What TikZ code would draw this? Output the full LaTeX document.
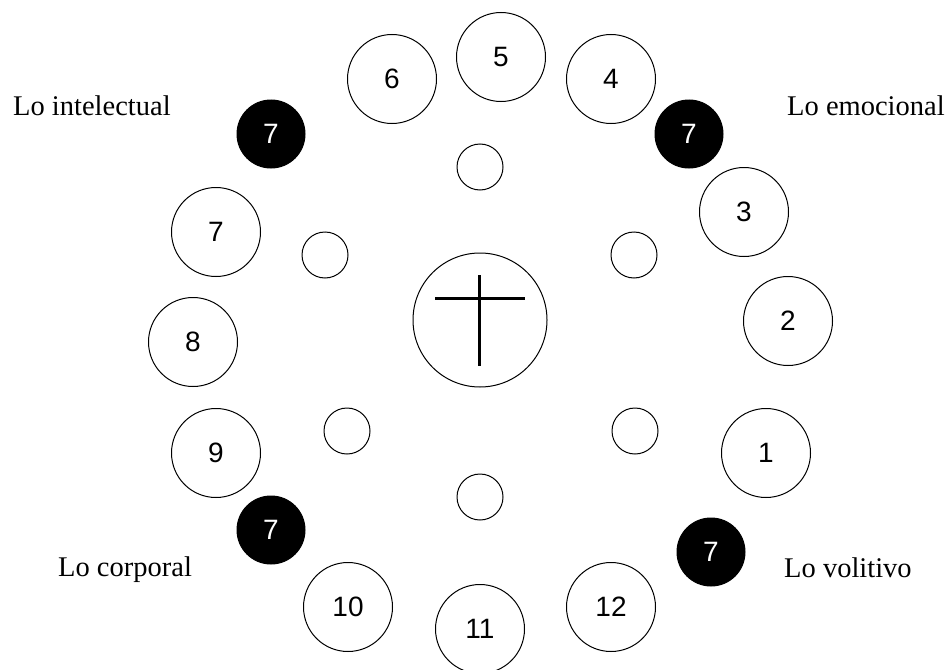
\documentclass[tikz,border=0pt]{standalone}
\usepackage{fontspec}
\setmainfont{Liberation Serif}
\newfontfamily\digitfont{Liberation Sans}
\begin{document}
\begin{tikzpicture}[x=1pt,y=-1pt,
  bigc/.style={circle,draw=black,line width=1pt,minimum size=89pt,inner sep=0pt,font=\digitfont\fontsize{28}{28}\selectfont},
  blackc/.style={circle,fill=black,draw=black,line width=1pt,minimum size=68pt,inner sep=0pt,text=white,font=\digitfont\fontsize{28}{28}\selectfont},
  smallc/.style={circle,draw=black,line width=1pt,minimum size=46pt,inner sep=0pt},
  centerc/.style={circle,draw=black,line width=1pt,minimum size=134pt,inner sep=0pt},
  lbl/.style={anchor=base west,inner sep=0pt,font=\fontsize{28.5}{30}\selectfont},
  crossline/.style={line width=3pt}]
\useasboundingbox (0,0) rectangle (947,669);
% outer ring
\node[bigc] (n5) at (501,57) {5};
\node[bigc] (n6) at (392,79) {6};
\node[bigc] (n4) at (611,79) {4};
\node[blackc] (b1) at (271,134) {7};
\node[blackc] (b2) at (689,134) {7};
\node[bigc] (n3) at (744,212) {3};
\node[bigc] (n7) at (216,232) {7};
\node[bigc] (n2) at (788,321) {2};
\node[bigc] (n8) at (193,342) {8};
\node[bigc] (n1) at (766,453) {1};
\node[bigc] (n9) at (216,453) {9};
\node[blackc] (b3) at (271,530) {7};
\node[blackc] (b4) at (711,552) {7};
\node[bigc] (n10) at (348,607) {10};
\node[bigc] (n11) at (480,629) {11};
\node[bigc] (n12) at (611,607) {12};
% inner ring
\node[smallc] (s1) at (480,167) {};
\node[smallc] (s2) at (325,255) {};
\node[smallc] (s3) at (634,255) {};
\node[smallc] (s4) at (347,431) {};
\node[smallc] (s5) at (635,431) {};
\node[smallc] (s6) at (480,497) {};
% centre with cross
\node[centerc] (c) at (480,320) {};
\draw[crossline] ([xshift=-1pt,yshift=45pt]c.center) -- ([xshift=-1pt,yshift=-46pt]c.center);
\draw[crossline] ([xshift=-45pt,yshift=22pt]c.center) -- ([xshift=45pt,yshift=22pt]c.center);
% labels
\node[lbl] (li) at (13,115) {Lo intelectual};
\node[lbl] (le) at (787,115) {Lo emocional};
\node[lbl] (lc) at (58,576) {Lo corporal};
\node[lbl] (lv) at (784,577) {Lo volitivo};
\end{tikzpicture}
\end{document}
